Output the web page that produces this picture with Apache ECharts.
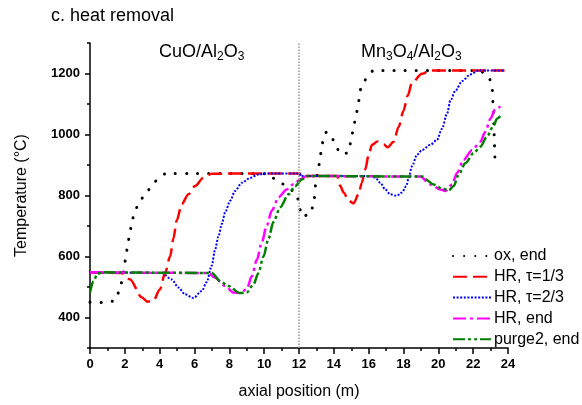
<!DOCTYPE html>
<html>
<head>
<meta charset="utf-8" />
<title>heat removal</title>
<script src="https://cdn.jsdelivr.net/npm/echarts@6/dist/echarts.min.js"></script>
<style>
html, body { margin: 0; padding: 0; background: #fff; }
#main { width: 582px; height: 405px; }
</style>
</head>
<body>
<div id="main"></div>
<script>
// axial position (m), temperature (°C)
var oxEnd = [[0,450],[0.8,449],[1.4,454],[1.72,489],[1.86,528],[1.97,568],[2.07,604],[2.17,642],[2.3,681],[2.41,718],[2.6,754],[2.89,786],[3.31,817],[3.74,847],[4.37,872],[6,872],[8,872],[10.2,871],[10.45,858],[11,839],[11.5,820],[11.9,800],[12.0,765],[12.17,731],[12.68,740],[12.84,777],[13.0,853],[13.12,890],[13.22,928],[13.32,966],[13.45,1002],[13.6,1008],[13.83,996],[14.12,962],[14.37,936],[14.79,939],[14.98,973],[15.09,1009],[15.23,1046],[15.36,1082],[15.46,1116],[15.55,1151],[15.9,1186],[16.28,1210],[22.37,1210],[22.9,1188],[23.08,1159],[23.12,1127],[23.14,1089],[23.18,1041],[23.2,1005],[23.22,971],[23.24,931],[23.26,890]];
var hrThird = [[0,548],[1.8,546],[2.3,525],[2.97,466],[3.3,452],[3.64,455],[4.02,493],[4.31,546],[4.6,600],[4.79,659],[4.98,718],[5.27,772],[5.65,804],[6.03,831],[6.51,858],[6.99,871],[8,872],[12.05,872],[12.1,864],[14.2,864],[14.37,831],[14.56,810],[14.85,783],[15.13,774],[15.42,804],[15.61,842],[15.8,885],[16.0,933],[16.19,966],[16.5,977],[16.85,968],[17.1,958],[17.43,976],[17.72,1025],[18.0,1078],[18.24,1127],[18.49,1170],[19.06,1199],[19.54,1210],[23.8,1210]];
var hrTwoThirds = [[0,548],[4.12,546],[4.69,525],[5.08,498],[5.46,476],[5.94,464],[6.42,487],[6.7,516],[6.99,570],[7.18,622],[7.37,665],[7.57,707],[7.76,745],[8.05,783],[8.33,815],[8.72,842],[9.2,858],[9.67,869],[10.15,872],[12.05,872],[12.1,864],[16.2,864],[16.38,858],[16.67,842],[16.95,820],[17.24,804],[17.6,799],[17.91,810],[18.16,831],[18.3,858],[18.49,896],[18.77,933],[19.06,949],[19.54,966],[19.92,982],[20.21,1019],[20.5,1068],[20.69,1111],[20.98,1143],[21.36,1175],[21.84,1197],[22.32,1210],[23.8,1210]];
var hrEnd = [[0,548],[6.8,546],[7.18,530],[7.76,503],[8.24,482],[8.62,480],[9.0,493],[9.29,535],[9.58,589],[9.87,648],[10.15,702],[10.44,751],[10.82,794],[11.3,820],[11.68,837],[12.07,853],[12.45,864],[18.97,862],[19.54,836],[20.11,820],[20.4,815],[20.79,836],[21.07,874],[21.45,917],[21.94,949],[22.41,976],[22.7,1009],[22.99,1052],[23.28,1084],[23.56,1092]];
var purge2End = [[0,482],[0.19,519],[0.44,544],[0.7,548],[7.0,546],[7.47,519],[7.95,503],[8.62,480],[9.0,482],[9.39,509],[9.67,546],[9.96,600],[10.25,659],[10.53,713],[10.92,761],[11.4,804],[11.78,831],[12.17,853],[12.55,864],[19.1,862],[19.25,853],[19.73,836],[20.21,823],[20.59,817],[20.88,831],[21.17,869],[21.55,906],[22.03,939],[22.41,960],[22.79,993],[23.18,1030],[23.37,1052],[23.56,1060]];

var seriesNames = ['ox, end', 'HR, \u03c4=1/3', 'HR, \u03c4=2/3', 'HR, end', 'purge2, end'];
var yLabelValues = [400, 600, 800, 1000, 1200];
var boundaryX = 12;

var FONT = '"Liberation Sans", Arial, sans-serif';

var chart = echarts.init(document.getElementById('main'));

function line(name, data, color, dash, width, cap) {
    return {
        name: name,
        type: 'line',
        data: data,
        showSymbol: false,
        symbol: 'none',
        smooth: 0.3,
        smoothMonotone: 'x',
        lineStyle: { color: color, width: width, type: dash, cap: cap || 'butt' },
        itemStyle: { color: color }
    };
}

var series = [
    line(seriesNames[0], oxEnd, '#000000', [0.1, 11], 3, 'round'),
    line(seriesNames[1], hrThird, '#ff0000', [14, 6], 2.5),
    line(seriesNames[2], hrTwoThirds, '#0000ff', [2, 1.6], 2),
    line(seriesNames[3], hrEnd, '#ff00ff', [13, 4, 3, 4], 2.5),
    line(seriesNames[4], purge2End, '#008000', [12, 3, 3, 3, 3, 3], 2.5)
];
series[0].markLine = {
    silent: true,
    symbol: 'none',
    label: { show: false },
    lineStyle: { color: '#999999', type: [1.5, 1.5], width: 1.5 },
    data: [{ xAxis: boundaryX }]
};

var option = {
    animation: false,
    backgroundColor: '#ffffff',
    textStyle: { fontFamily: FONT },
    grid: { left: 90, right: 74, top: 43, bottom: 52 },
    legend: {
        data: seriesNames,
        orient: 'vertical',
        left: 452,
        top: 248,
        padding: 0,
        itemWidth: 38,
        itemHeight: 14,
        itemGap: 4.8,
        itemStyle: { opacity: 0 },
        textStyle: { fontSize: 16, color: '#000', fontFamily: FONT, padding: [0, 0, 0, -2] }
    },
    xAxis: {
        type: 'value',
        min: 0,
        max: 24,
        interval: 2,
        name: 'axial position (m)',
        nameLocation: 'middle',
        nameGap: 36,
        nameTextStyle: { fontSize: 16, color: '#000', fontFamily: FONT },
        axisLine: { lineStyle: { color: '#000', width: 1.5 } },
        axisTick: { length: 6, lineStyle: { color: '#000', width: 1.5 } },
        minorTick: { show: true, splitNumber: 2, length: 3, lineStyle: { color: '#000', width: 1.5 } },
        axisLabel: { fontSize: 13, fontWeight: 'bold', color: '#000', margin: 10, fontFamily: FONT },
        splitLine: { show: false }
    },
    yAxis: [{
        type: 'value',
        min: 300,
        max: 1300,
        interval: 100,
        name: 'Temperature (\u00b0C)',
        nameLocation: 'middle',
        nameGap: 60,
        nameTextStyle: { fontSize: 16, color: '#000', fontFamily: FONT },
        axisLine: { show: true, lineStyle: { color: '#000', width: 1.5 } },
        axisTick: { length: 3, lineStyle: { color: '#000', width: 1.5 } },
        axisLabel: { show: false },
        splitLine: { show: false }
    }, {
        type: 'value',
        position: 'left',
        min: 300,
        max: 1300,
        interval: 100,
        axisLine: { show: false },
        axisTick: { show: true, length: 5, customValues: yLabelValues, lineStyle: { color: '#000', width: 1.5 } },
        axisLabel: {
            fontSize: 13, fontWeight: 'bold', color: '#000', margin: 10, fontFamily: FONT,
            customValues: yLabelValues,
            formatter: function (v) { return String(v); }
        },
        splitLine: { show: false }
    }],
    graphic: [{
        type: 'text',
        left: 51,
        top: 7,
        style: { text: 'c. heat removal', font: '18px ' + FONT, fill: '#000' }
    }, {
        type: 'text',
        left: 159,
        top: 43,
        style: {
            text: '{n|CuO/Al}{s|2}{n|O}{s|3}',
            rich: {
                n: { fontSize: 18, fontFamily: FONT, fill: '#000', lineHeight: 22 },
                s: { fontSize: 12, fontFamily: FONT, fill: '#000', verticalAlign: 'bottom', lineHeight: 12 }
            }
        }
    }, {
        type: 'text',
        left: 361,
        top: 43,
        style: {
            text: '{n|Mn}{s|3}{n|O}{s|4}{n|/Al}{s|2}{n|O}{s|3}',
            rich: {
                n: { fontSize: 18, fontFamily: FONT, fill: '#000', lineHeight: 22 },
                s: { fontSize: 12, fontFamily: FONT, fill: '#000', verticalAlign: 'bottom', lineHeight: 12 }
            }
        }
    }],
    series: series
};

chart.setOption(option);
</script>
</body>
</html>
